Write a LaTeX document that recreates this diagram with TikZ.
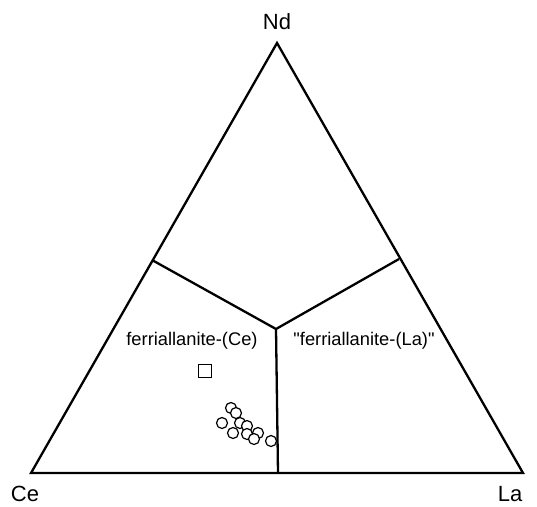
\documentclass[tikz,border=0pt]{standalone}
\usepackage{fontspec}
\setmainfont{Liberation Sans}
\newfontfamily\rawsans{Liberation Sans}
\usetikzlibrary{calc, positioning}
\tikzset{
    edge/.style={line width=2.3pt, line join=miter},
    vlabel/.style={font=\fontsize{22}{24}\selectfont, inner sep=0pt},
    field/.style={font=\rawsans\fontsize{18.3}{20}\selectfont, inner sep=0pt},
    sample/.style={circle, draw=black, line width=1.2pt, fill=white, minimum size=11pt, inner sep=0pt},
    ref/.style={rectangle, draw=black, line width=1.4pt, fill=white, minimum size=13pt, inner sep=0pt}
}

\begin{document}
\begin{tikzpicture}[x=1pt, y=-1pt]
    \useasboundingbox (0,0) rectangle (537,506);

    % Vertices
    \coordinate (Ce) at (31,473);
    \coordinate (La) at (523,473);
    \coordinate (Nd) at (277,43);

    % Field boundaries
    \coordinate (L) at (152,260);
    \coordinate (R) at (399,259);
    \coordinate (M) at (276,329);
    \coordinate (B) at (278,473);

    \draw[edge] (Ce) -- (La) -- (Nd) -- cycle;
    \draw[edge] (L) -- (M) -- (R);
    \draw[edge] (M) -- (B);

    % Labels
    \node[vlabel] (ndlab) at (277,22) {Nd};
    \node[vlabel] (celab) at (25,494) {Ce};
    \node[vlabel] (lalab) at (510,494) {La};
    \node[field] (ce-field) at (192,341) {ferriallanite-(Ce)};
    \node[field] (la-field) at (364,341) {"ferriallanite-(La)"};

    % Data
    \node[ref] (holotype) at (205,371) {};
    \foreach \px/\py [count=\i] in {231/408, 236/413, 222/423, 240/423, 247/426,
        233/433, 247/434, 258/433, 254/439, 271/441}
        \node[sample] (s\i) at (\px,\py) {};
\end{tikzpicture}
\end{document}
